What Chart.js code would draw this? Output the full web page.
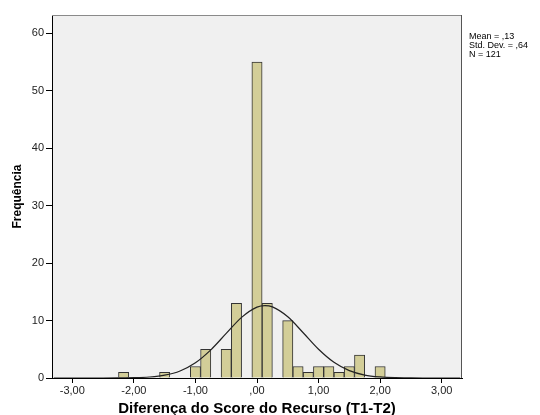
<!DOCTYPE html>
<html>
<head>
<meta charset="utf-8">
<script src="https://cdn.jsdelivr.net/npm/chart.js@4"></script>
<style>
  html, body { margin: 0; padding: 0; background: #ffffff; }
  #wrap { width: 540px; height: 415px; position: relative; }
</style>
</head>
<body>
<div id="wrap"><canvas id="c" width="540" height="415"></canvas></div>
<script>
// Histogram bins (bin centres) and frequencies
const binCenters = [-2.1667, -1.5, -1.0, -0.8333, -0.5, -0.3333, 0, 0.1667, 0.5, 0.6667, 0.8333, 1.0, 1.1667, 1.3333, 1.5, 1.6667, 2.0];
const counts     = [1, 1, 2, 5, 5, 13, 55, 13, 10, 2, 1, 2, 2, 1, 2, 4, 2];

// Normal curve points
const curveX = [-3.3, -3.0, -2.75, -2.5, -2.25, -2.0, -1.75, -1.5, -1.25, -1.0, -0.75, -0.5, -0.25, 0, 0.13, 0.25, 0.5, 0.75, 1.0, 1.25, 1.5, 1.75, 2.0, 2.25, 2.5, 2.75, 3.0, 3.3];
const curveY = [0.0, 0.0, 0.003, 0.003, 0.013, 0.05, 0.17, 0.49, 1.23, 2.65, 4.9, 7.76, 10.56, 12.34, 12.6, 12.38, 10.66, 7.88, 5.0, 2.73, 1.28, 0.51, 0.18, 0.05, 0.013, 0.003, 0.0, 0.0];

// Tick labels
const xTicks = [-3, -2, -1, 0, 1, 2, 3];
const yTicks = [0, 10, 20, 30, 40, 50, 60];

// Statistics box
const statLines = ["Mean = ,13", "Std. Dev. = ,64", "N = 121"];

const FONT = "'Liberation Sans', Arial, Helvetica, sans-serif";

function fmtX(v) {
  let s = Math.abs(v).toFixed(2).replace('.', ',');
  if (Math.abs(v) < 1) s = s.replace(/^0/, '');
  return (v < 0 ? '-' : '') + s;
}

const bgPlugin = {
  id: 'bg',
  beforeDraw(chart) {
    const {ctx, chartArea: a} = chart;
    ctx.save();
    ctx.fillStyle = '#f0f0f0';
    ctx.fillRect(a.left, a.top, a.right - a.left, a.bottom - a.top);
    ctx.restore();
  },
  afterDraw(chart) {
    const {ctx, chartArea: a} = chart;
    ctx.save();
    ctx.lineWidth = 1;
    ctx.strokeStyle = '#8a8a8a';
    ctx.beginPath();
    ctx.moveTo(a.left, a.top + 0.5);
    ctx.lineTo(a.right, a.top + 0.5);
    ctx.stroke();
    ctx.strokeStyle = '#555555';
    ctx.beginPath();
    ctx.moveTo(a.right - 0.5, a.top);
    ctx.lineTo(a.right - 0.5, a.bottom);
    ctx.stroke();
    // statistics text
    ctx.fillStyle = '#000000';
    ctx.font = '9px ' + FONT;
    ctx.textAlign = 'left';
    ctx.textBaseline = 'middle';
    statLines.forEach((t, i) => ctx.fillText(t, a.right + 7, 37 + i * 9));
    ctx.restore();
  }
};

new Chart(document.getElementById('c'), {
  type: 'bar',
  data: {
    datasets: [
      {
        type: 'line',
        data: curveX.map((x, i) => ({x: x, y: curveY[i]})),
        borderColor: '#222222',
        borderWidth: 1.2,
        pointRadius: 0,
        fill: false,
        cubicInterpolationMode: 'monotone',
        order: 0
      },
      {
        type: 'bar',
        data: binCenters.map((x, i) => ({x: x, y: counts[i]})),
        backgroundColor: '#d3ce98',
        borderColor: '#333333',
        borderWidth: 1,
        barPercentage: 1,
        categoryPercentage: 1,
        order: 1
      }
    ]
  },
  options: {
    responsive: false,
    animation: false,
    devicePixelRatio: 1,
    layout: { padding: { top: 15, right: 78, left: 0, bottom: 0 } },
    plugins: { legend: { display: false }, tooltip: { enabled: false } },
    scales: {
      x: {
        type: 'linear',
        min: -3.33,
        max: 3.33,
        offset: false,
        afterBuildTicks(s) { s.ticks = xTicks.map(v => ({value: v})); },
        afterFit(s) { s.height = 37; },
        grid: { display: true, offset: false, drawOnChartArea: false, drawTicks: true, tickLength: 5, color: '#000000' },
        border: { display: true, color: '#000000', width: 1 },
        ticks: {
          callback: (v) => fmtX(v),
          font: { family: FONT, size: 11 },
          color: '#222222',
          padding: 1,
          maxRotation: 0,
          autoSkip: false
        },
        title: {
          display: true,
          text: 'Diferença do Score do Recurso (T1-T2)',
          font: { family: FONT, size: 15, weight: 'bold', lineHeight: 0.8 },
          color: '#000000',
          padding: { top: 0, bottom: 0 }
        }
      },
      y: {
        min: 0,
        max: 63.2,
        afterBuildTicks(s) { s.ticks = yTicks.map(v => ({value: v})); },
        afterFit(s) { s.width = 52; },
        grid: { display: true, offset: false, drawOnChartArea: false, drawTicks: true, tickLength: 6, color: '#000000' },
        border: { display: true, color: '#000000', width: 1 },
        ticks: {
          font: { family: FONT, size: 11 },
          color: '#222222',
          padding: 2
        },
        title: {
          display: true,
          text: 'Frequência',
          font: { family: FONT, size: 12, weight: 'bold', lineHeight: 1.2 },
          color: '#000000',
          padding: { top: 10, bottom: 0 }
        }
      }
    }
  },
  plugins: [bgPlugin]
});
</script>
</body>
</html>
